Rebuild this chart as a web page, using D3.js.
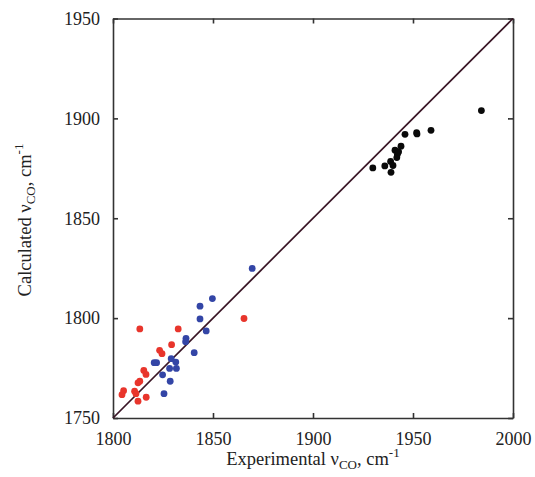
<!DOCTYPE html>
<html>
<head>
<meta charset="utf-8">
<script src="https://cdn.jsdelivr.net/npm/d3@7"></script>
<style>
  body { margin: 0; background: #fff; }
  svg { display: block; }
  text { font-family: "Liberation Serif", "Times New Roman", serif; fill: #222; }
</style>
</head>
<body>
<svg id="chart" width="535" height="477"></svg>
<script>
// experimental vs calculated CO stretch, cm-1
const redPoints = [
    [1813.4, 1794.6], [1832.6, 1794.6], [1865.5, 1799.8], [1829.3, 1786.7],
    [1823.3, 1783.9], [1824.5, 1782.2], [1815.4, 1773.8], [1816.5, 1771.8],
    [1813.4, 1768.4], [1812.5, 1767.6], [1810.8, 1763.4], [1811.5, 1762.2],
    [1805.3, 1763.7], [1804.5, 1761.7], [1816.6, 1760.4], [1812.5, 1758.4]
];
const bluePoints = [
    [1869.6, 1824.9], [1849.7, 1809.8], [1843.5, 1806.0], [1843.5, 1799.6],
    [1846.6, 1793.6], [1836.5, 1789.9], [1836.3, 1788.2], [1840.6, 1782.7],
    [1820.6, 1777.7], [1821.8, 1777.7], [1829.1, 1779.7], [1831.4, 1778.0],
    [1824.8, 1771.6], [1828.3, 1774.8], [1831.7, 1774.8], [1828.6, 1768.4],
    [1825.5, 1762.2]
];
const blackPoints = [
    [1929.9, 1875.2], [1935.9, 1876.2], [1938.8, 1878.4], [1939.0, 1873.0],
    [1940.0, 1876.4], [1941.0, 1884.1], [1941.9, 1880.4], [1942.2, 1882.1],
    [1942.8, 1883.3], [1944.0, 1886.1], [1946.0, 1892.0], [1951.8, 1892.8],
    [1952.0, 1892.2], [1959.0, 1894.0], [1984.2, 1903.9]
];
const xTicks = [1800, 1850, 1900, 1950, 2000];
const yTicks = [1750, 1800, 1850, 1900, 1950];
const diagonal = [[1800, 1750], [2000, 1950]];

const margin = {left: 113, right: 22, top: 18.5, bottom: 59};
const width = 535, height = 477;

const svg = d3.select("#chart");

const x = d3.scaleLinear().domain([1800, 2000]).range([margin.left, width - margin.right]);
const y = d3.scaleLinear().domain([1750, 1950]).range([height - margin.bottom, margin.top]);

const tickLen = 5;
const axisColor = "#333";
const fmt = d3.format("d");

// bottom / top / left / right axes, ticks pointing inward
const axisB = svg.append("g")
    .attr("transform", `translate(0,${y(1750)})`)
    .call(d3.axisBottom(x).tickValues(xTicks).tickFormat(fmt).tickSizeInner(-tickLen).tickSizeOuter(0).tickPadding(14));
axisB.selectAll("text").attr("font-size", 18).attr("fill", "#222");

svg.append("g")
    .attr("transform", `translate(0,${y(1950)})`)
    .call(d3.axisTop(x).tickValues(xTicks).tickSizeInner(-tickLen).tickSizeOuter(0).tickFormat(""));

const axisL = svg.append("g")
    .attr("transform", `translate(${x(1800)},0)`)
    .call(d3.axisLeft(y).tickValues(yTicks).tickFormat(fmt).tickSizeInner(-tickLen).tickSizeOuter(0).tickPadding(13));
axisL.selectAll("text").attr("font-size", 18).attr("fill", "#222");

svg.append("g")
    .attr("transform", `translate(${x(2000)},0)`)
    .call(d3.axisRight(y).tickValues(yTicks).tickSizeInner(-tickLen).tickSizeOuter(0).tickFormat(""));

svg.selectAll(".domain, .tick line")
    .attr("stroke", axisColor)
    .attr("stroke-width", 1.6);

// y = x reference line
svg.append("path")
    .datum(diagonal)
    .attr("d", d3.line().x(d => x(d[0])).y(d => y(d[1])))
    .attr("stroke", "#3a1626")
    .attr("stroke-width", 1.7)
    .attr("fill", "none");

function dots(data, color) {
    svg.append("g")
        .selectAll("circle")
        .data(data)
        .join("circle")
        .attr("cx", d => x(d[0]))
        .attr("cy", d => y(d[1]))
        .attr("r", 3.4)
        .attr("fill", color);
}
dots(blackPoints, "#0a0a0a");
dots(bluePoints, "#3345a6");
dots(redPoints, "#e8352c");

// axis titles
const xt = svg.append("text")
    .attr("x", 313)
    .attr("y", 465)
    .attr("text-anchor", "middle")
    .attr("font-size", 18.5);
xt.append("tspan").text("Experimental ν");
xt.append("tspan").attr("font-size", 13).attr("dy", 4).text("CO");
xt.append("tspan").attr("dy", -4).text(", cm");
xt.append("tspan").attr("font-size", 13).attr("dy", -8).text("-1");

const yt = svg.append("text")
    .attr("transform", "translate(31,220) rotate(-90)")
    .attr("text-anchor", "middle")
    .attr("font-size", 18.5);
yt.append("tspan").text("Calculated ν");
yt.append("tspan").attr("font-size", 13).attr("dy", 4).text("CO");
yt.append("tspan").attr("dy", -4).text(", cm");
yt.append("tspan").attr("font-size", 13).attr("dy", -8).text("-1");
</script>
</body>
</html>
